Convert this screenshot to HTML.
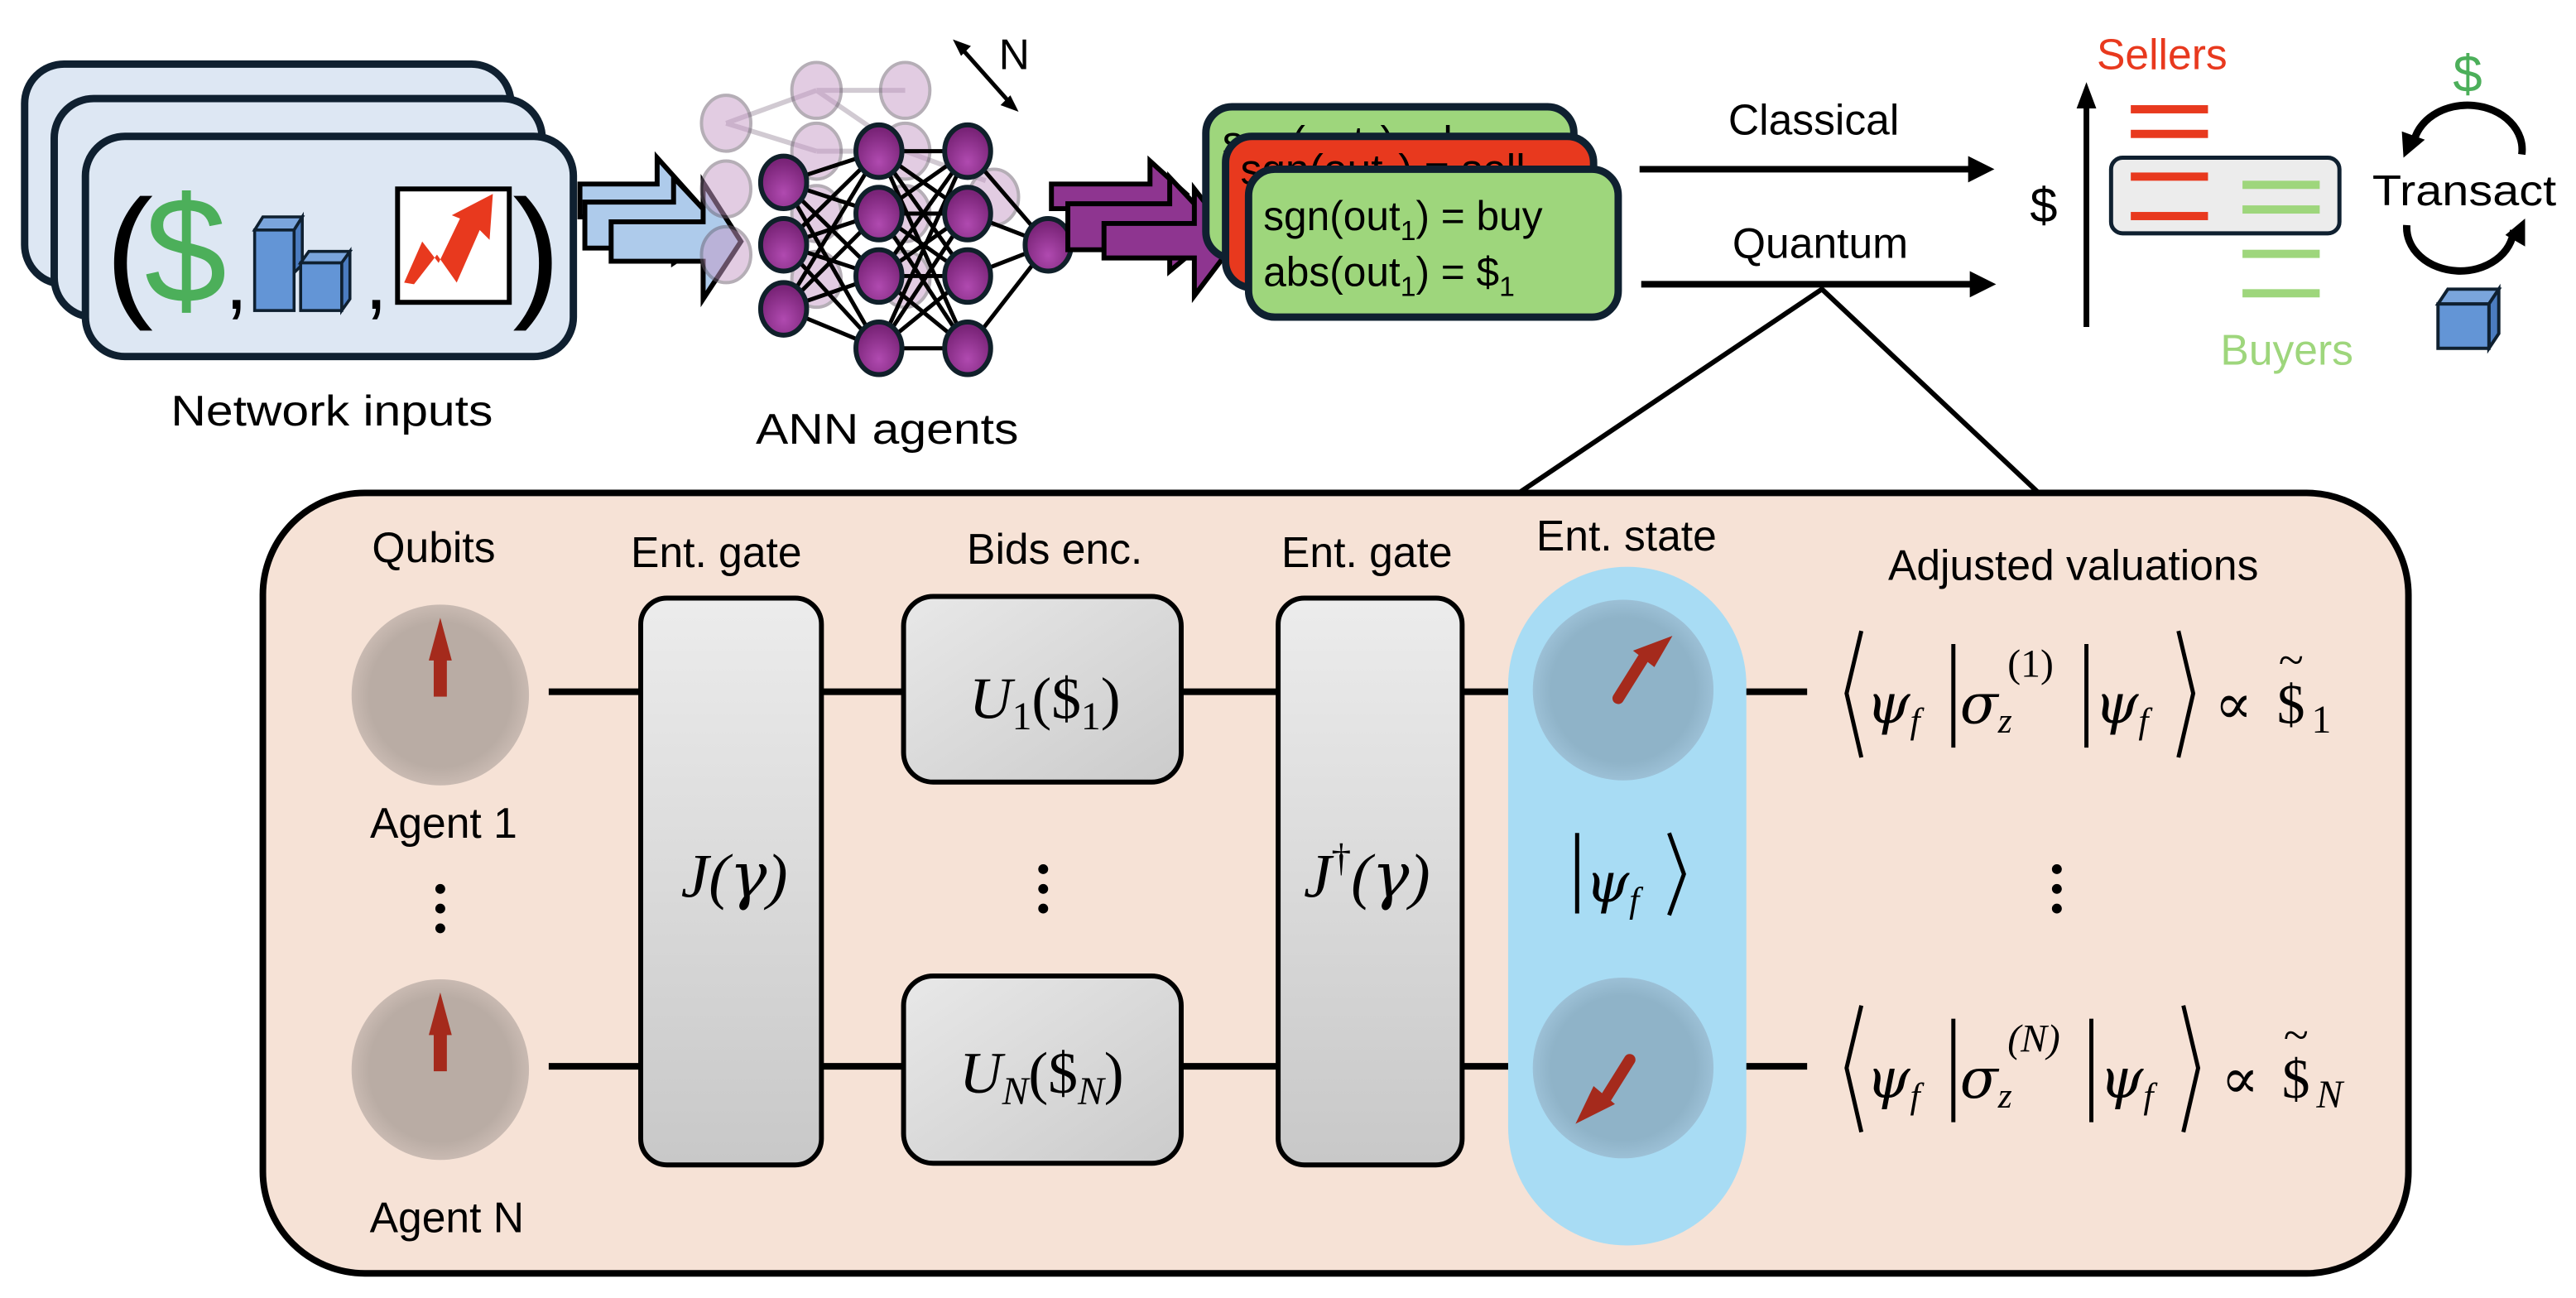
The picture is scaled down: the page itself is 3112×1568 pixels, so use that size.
<!DOCTYPE html>
<html><head><meta charset="utf-8"><style>
html,body{margin:0;padding:0;background:#fff}
svg{display:block}
text{font-family:"Liberation Sans",sans-serif}
.m{font-family:"Liberation Serif","DejaVu Serif",serif;font-style:italic}
.g{font-family:"DejaVu Serif",serif;font-style:italic}
.r{font-family:"Liberation Serif","DejaVu Serif",serif;font-style:normal}
</style></head><body>
<svg width="3112" height="1568" viewBox="0 0 1568 790" preserveAspectRatio="none" xmlns="http://www.w3.org/2000/svg">
<defs>
<radialGradient id="pn" cx="50%" cy="70%" r="60%"><stop offset="0" stop-color="#b04ab0"/><stop offset="1" stop-color="#7a2478"/></radialGradient>
<linearGradient id="gg" x1="0" y1="0" x2="0" y2="1"><stop offset="0" stop-color="#ececec"/><stop offset="1" stop-color="#c8c8c8"/></linearGradient>
<linearGradient id="gu" x1="0" y1="0" x2="1" y2="1"><stop offset="0" stop-color="#e8e8e8"/><stop offset="1" stop-color="#cbcbcb"/></linearGradient>
<radialGradient id="qb" cx="50%" cy="50%" r="50%"><stop offset="0.8" stop-color="#b9aca4"/><stop offset="1" stop-color="#c9bab2"/></radialGradient>
<radialGradient id="qs" cx="50%" cy="50%" r="50%"><stop offset="0.8" stop-color="#8fb3c8"/><stop offset="1" stop-color="#9cc0d6"/></radialGradient>
</defs>

<!-- Network inputs -->
<rect x="15" y="39" width="296" height="134" rx="24" fill="#dde7f3" stroke="#0f2030" stroke-width="4.5"/>
<rect x="33" y="60" width="297" height="133" rx="24" fill="#dde7f3" stroke="#0f2030" stroke-width="4.5"/>
<rect x="52" y="83" width="297" height="134" rx="24" fill="#dde7f3" stroke="#0f2030" stroke-width="4.5"/>
<text x="64" y="183" font-size="88">(</text>
<text x="88" y="184" font-size="92" fill="#4caf5a" textLength="50" lengthAdjust="spacingAndGlyphs">$</text>
<text x="137" y="188" font-size="50">,</text>
<g stroke="#0f2030" stroke-width="1.8">
<polygon points="155,140 160,132 184,132 179,140" fill="#7aa5dc"/>
<polygon points="179,140 184,132 184,161 179,166" fill="#4b7cc0"/>
<rect x="155" y="140" width="24" height="49" fill="#6395d6"/>
<polygon points="183,160 188,153 213,153 208,160" fill="#7aa5dc"/>
<polygon points="208,160 213,153 213,182 208,189" fill="#4b7cc0"/>
<rect x="183" y="160" width="25" height="29" fill="#6395d6"/>
</g>
<text x="222" y="188" font-size="50">,</text>
<rect x="242" y="115" width="68" height="69" fill="#fff" stroke="#000" stroke-width="3"/>
<polygon points="246,172 257,147 267,160 280,133 275,131 300,118 298,146 292,140 278,172 266,155 252,173" fill="#e8391e"/>
<text x="312" y="183" font-size="88">)</text>
<text x="202" y="259" font-size="26" text-anchor="middle" textLength="196" lengthAdjust="spacingAndGlyphs">Network inputs</text>

<!-- Blue arrows -->
<g fill="#aecbeb" stroke="#000" stroke-width="3">
<polygon points="353,112 400,112 400,96 426,125 400,140 400,132 353,132"/>
<polygon points="356,123 410,123 410,108 440,140 410,160 410,151 356,151"/>
<polygon points="372,135 428,135 428,111 451,147 428,182 428,159 372,159"/>
</g>

<!-- ANN faded back -->
<g opacity="0.35" stroke="#7d6a80" stroke-width="3">
<line x1="442" y1="75" x2="497" y2="55"/><line x1="442" y1="75" x2="497" y2="92"/><line x1="497" y1="55" x2="551" y2="55"/><line x1="497" y1="92" x2="551" y2="92"/><line x1="497" y1="55" x2="551" y2="92"/><line x1="551" y1="92" x2="600" y2="110"/>
</g>
<g fill="#c79bc7" stroke="#6d5f70" stroke-width="2" opacity="0.5">
<ellipse cx="442" cy="75" rx="15" ry="17"/><ellipse cx="442" cy="115" rx="15" ry="17"/><ellipse cx="442" cy="155" rx="15" ry="17"/>
<ellipse cx="497" cy="55" rx="15" ry="17"/><ellipse cx="497" cy="92" rx="15" ry="17"/><ellipse cx="497" cy="130" rx="15" ry="17"/><ellipse cx="497" cy="170" rx="15" ry="17"/>
<ellipse cx="551" cy="55" rx="15" ry="17"/><ellipse cx="551" cy="92" rx="15" ry="17"/><ellipse cx="551" cy="130" rx="15" ry="17"/><ellipse cx="551" cy="170" rx="15" ry="17"/>
<ellipse cx="605" cy="120" rx="15" ry="17"/>
</g>
<!-- ANN front edges -->
<g stroke="#000" stroke-width="2.5">
<line x1="477" y1="111" x2="535" y2="92"/><line x1="477" y1="111" x2="535" y2="130"/><line x1="477" y1="111" x2="535" y2="168"/><line x1="477" y1="111" x2="535" y2="212"/>
<line x1="477" y1="149" x2="535" y2="92"/><line x1="477" y1="149" x2="535" y2="130"/><line x1="477" y1="149" x2="535" y2="168"/><line x1="477" y1="149" x2="535" y2="212"/>
<line x1="477" y1="188" x2="535" y2="92"/><line x1="477" y1="188" x2="535" y2="130"/><line x1="477" y1="188" x2="535" y2="168"/><line x1="477" y1="188" x2="535" y2="212"/>
<line x1="535" y1="92" x2="589" y2="92"/><line x1="535" y1="92" x2="589" y2="130"/><line x1="535" y1="92" x2="589" y2="168"/><line x1="535" y1="92" x2="589" y2="212"/>
<line x1="535" y1="130" x2="589" y2="92"/><line x1="535" y1="130" x2="589" y2="130"/><line x1="535" y1="130" x2="589" y2="168"/><line x1="535" y1="130" x2="589" y2="212"/>
<line x1="535" y1="168" x2="589" y2="92"/><line x1="535" y1="168" x2="589" y2="130"/><line x1="535" y1="168" x2="589" y2="168"/><line x1="535" y1="168" x2="589" y2="212"/>
<line x1="535" y1="212" x2="589" y2="92"/><line x1="535" y1="212" x2="589" y2="130"/><line x1="535" y1="212" x2="589" y2="168"/><line x1="535" y1="212" x2="589" y2="212"/>
<line x1="589" y1="92" x2="638" y2="149"/><line x1="589" y1="130" x2="638" y2="149"/><line x1="589" y1="168" x2="638" y2="149"/><line x1="589" y1="212" x2="638" y2="149"/>
</g>
<g fill="url(#pn)" stroke="#10202a" stroke-width="3">
<ellipse cx="477" cy="111" rx="14" ry="16"/><ellipse cx="477" cy="149" rx="14" ry="16"/><ellipse cx="477" cy="188" rx="14" ry="16"/>
<ellipse cx="535" cy="92" rx="14" ry="16"/><ellipse cx="535" cy="130" rx="14" ry="16"/><ellipse cx="535" cy="168" rx="14" ry="16"/><ellipse cx="535" cy="212" rx="14" ry="16"/>
<ellipse cx="589" cy="92" rx="14" ry="16"/><ellipse cx="589" cy="130" rx="14" ry="16"/><ellipse cx="589" cy="168" rx="14" ry="16"/><ellipse cx="589" cy="212" rx="14" ry="16"/>
<ellipse cx="638" cy="149" rx="14" ry="16"/>
</g>
<line x1="584" y1="28" x2="616" y2="64" stroke="#000" stroke-width="2.5"/>
<polygon points="580,24 591,28 585,34" fill="#000"/><polygon points="620,68 609,64 615,58" fill="#000"/>
<text x="608" y="42" font-size="26">N</text>
<text x="540" y="270" font-size="26" text-anchor="middle" textLength="160" lengthAdjust="spacingAndGlyphs">ANN agents</text>

<!-- Purple arrows -->
<g fill="#8e3590" stroke="#000" stroke-width="3">
<polygon points="640,112 700,112 700,98 722,118 700,135 700,127 640,127"/>
<polygon points="650,124 712,124 712,108 742,140 712,165 712,152 650,152"/>
<polygon points="672,136 727,136 727,115 752,147 727,180 727,157 672,157"/>
</g>

<!-- Output cards -->
<rect x="734" y="65" width="224" height="92" rx="16" fill="#9ed67c" stroke="#0f2030" stroke-width="4.5"/>
<text x="744" y="95" font-size="26">sgn(out<tspan font-size="17" dy="6">1</tspan><tspan dy="-6">) = buy</tspan></text>
<rect x="746" y="83" width="224" height="92" rx="16" fill="#e8391e" stroke="#0f2030" stroke-width="4.5"/>
<text x="755" y="112" font-size="26">sgn(out<tspan font-size="17" dy="6">1</tspan><tspan dy="-6">) = sell</tspan></text>
<rect x="760" y="103" width="225" height="90" rx="16" fill="#9ed67c" stroke="#0f2030" stroke-width="4.5"/>
<text x="769" y="140" font-size="25">sgn(out<tspan font-size="17" dy="6">1</tspan><tspan dy="-6">) = buy</tspan></text>
<text x="769" y="174" font-size="25">abs(out<tspan font-size="17" dy="6">1</tspan><tspan dy="-6">) = $</tspan><tspan font-size="17" dy="6">1</tspan></text>

<!-- Classical / Quantum -->
<text x="1104" y="82" font-size="26" text-anchor="middle">Classical</text>
<line x1="998" y1="103" x2="1200" y2="103" stroke="#000" stroke-width="4"/>
<polygon points="1214,103 1198,95 1198,111" fill="#000"/>
<text x="1108" y="157" font-size="26" text-anchor="middle">Quantum</text>
<line x1="999" y1="173" x2="1200" y2="173" stroke="#000" stroke-width="4"/>
<polygon points="1215,173 1199,165 1199,181" fill="#000"/>
<polyline points="923,301 1109,176 1242,301" fill="none" stroke="#000" stroke-width="3"/>

<!-- Market -->
<text x="1316" y="42" font-size="26" fill="#e8391e" text-anchor="middle">Sellers</text>
<line x1="1270" y1="62" x2="1270" y2="199" stroke="#000" stroke-width="3.5"/>
<polygon points="1270,50 1264,66 1276,66" fill="#000"/>
<text x="1244" y="135" font-size="30" text-anchor="middle">$</text>
<rect x="1285" y="96" width="139" height="46" rx="7" fill="#ececec" stroke="#0f2030" stroke-width="2.5"/>
<g fill="#e8391e"><rect x="1297" y="64" width="47" height="5"/><rect x="1297" y="79" width="47" height="5"/><rect x="1297" y="105" width="47" height="5"/><rect x="1297" y="129" width="47" height="5"/></g>
<g fill="#9ed67c"><rect x="1365" y="110" width="47" height="5"/><rect x="1365" y="125" width="47" height="5"/><rect x="1365" y="152" width="47" height="5"/><rect x="1365" y="176" width="47" height="5"/></g>
<text x="1392" y="222" font-size="26" fill="#9ed67c" text-anchor="middle">Buyers</text>
<text x="1502" y="56" font-size="32" fill="#4caf5a" text-anchor="middle">$</text>
<path d="M1469,88 A32,26 0 0 1 1535,94" fill="none" stroke="#000" stroke-width="4.5"/>
<polygon points="1463,96 1462,80 1476,85" fill="#000"/>
<path d="M1465,137 A32,26 0 0 0 1530,140" fill="none" stroke="#000" stroke-width="4.5"/>
<polygon points="1537,133 1537,150 1525,143" fill="#000"/>
<text x="1500" y="125" font-size="26" text-anchor="middle" textLength="112" lengthAdjust="spacingAndGlyphs">Transact</text>
<g stroke="#0f2030" stroke-width="2">
<polygon points="1484,185 1490,176 1521,176 1515,185" fill="#7aa5dc"/>
<polygon points="1515,185 1521,176 1521,203 1515,212" fill="#4b7cc0"/>
<rect x="1484" y="185" width="31" height="27" fill="#6395d6"/>
</g>

<!-- Bottom panel -->
<rect x="160" y="300" width="1306" height="475" rx="62" fill="#f6e2d6" stroke="#000" stroke-width="4"/>
<g font-size="26" text-anchor="middle">
<text x="264" y="342">Qubits</text>
<text x="436" y="345">Ent. gate</text>
<text x="642" y="343">Bids enc.</text>
<text x="832" y="345">Ent. gate</text>
<text x="990" y="335">Ent. state</text>
<text x="1262" y="353">Adjusted valuations</text>
<text x="270" y="510">Agent 1</text>
<text x="272" y="750">Agent N</text>
</g>
<g fill="#000"><circle cx="268" cy="541" r="3"/><circle cx="268" cy="553" r="3"/><circle cx="268" cy="565" r="3"/>
<circle cx="635" cy="529" r="3"/><circle cx="635" cy="541" r="3"/><circle cx="635" cy="553" r="3"/>
<circle cx="1252" cy="529" r="3"/><circle cx="1252" cy="541" r="3"/><circle cx="1252" cy="553" r="3"/></g>

<!-- wires -->
<g stroke="#000" stroke-width="4">
<line x1="334" y1="421" x2="392" y2="421"/><line x1="500" y1="421" x2="552" y2="421"/><line x1="718" y1="421" x2="780" y2="421"/><line x1="889" y1="421" x2="930" y2="421"/><line x1="1050" y1="421" x2="1100" y2="421"/>
<line x1="334" y1="649" x2="392" y2="649"/><line x1="500" y1="649" x2="552" y2="649"/><line x1="718" y1="649" x2="780" y2="649"/><line x1="889" y1="649" x2="930" y2="649"/><line x1="1050" y1="649" x2="1100" y2="649"/>
</g>

<!-- qubits -->
<ellipse cx="268" cy="423" rx="54" ry="55" fill="url(#qb)"/>
<ellipse cx="268" cy="651" rx="54" ry="55" fill="url(#qb)"/>
<g fill="#a52a1c"><rect x="264" y="395" width="8" height="29"/><polygon points="268,376 261,402 275,402"/>
<rect x="264" y="623" width="8" height="29"/><polygon points="268,604 261,630 275,630"/></g>

<!-- gates -->
<rect x="390" y="364" width="110" height="345" rx="16" fill="url(#gg)" stroke="#000" stroke-width="3"/>
<rect x="550" y="363" width="169" height="113" rx="18" fill="url(#gu)" stroke="#000" stroke-width="3"/>
<rect x="550" y="594" width="169" height="114" rx="18" fill="url(#gu)" stroke="#000" stroke-width="3"/>
<rect x="778" y="364" width="112" height="345" rx="16" fill="url(#gg)" stroke="#000" stroke-width="3"/>
<text x="447" y="546" font-size="38" class="m" text-anchor="middle">J(<tspan class="g">γ</tspan>)</text>
<text x="832" y="546" font-size="38" class="m" text-anchor="middle">J<tspan font-size="24" dy="-16" class="r">†</tspan><tspan dy="16">(</tspan><tspan class="g">γ</tspan>)</text>
<text x="636" y="437" font-size="36" class="m" text-anchor="middle">U<tspan font-size="24" dy="7" class="r">1</tspan><tspan dy="-7" class="r">($</tspan><tspan font-size="24" dy="7" class="r">1</tspan><tspan dy="-7" class="r">)</tspan></text>
<text x="634" y="665" font-size="36" class="m" text-anchor="middle">U<tspan font-size="24" dy="7">N</tspan><tspan dy="-7" class="r">($</tspan><tspan font-size="24" dy="7">N</tspan><tspan dy="-7" class="r">)</tspan></text>

<!-- Ent state -->
<rect x="918" y="345" width="145" height="413" rx="72" fill="#a8dcf4"/>
<ellipse cx="988" cy="420" rx="55" ry="55" fill="url(#qs)"/>
<ellipse cx="988" cy="650" rx="55" ry="55" fill="url(#qs)"/>
<line x1="985" y1="425" x2="1000" y2="401" stroke="#a52a1c" stroke-width="7" stroke-linecap="round"/>
<polygon points="1018,387 994,396 1007,406" fill="#a52a1c"/>
<line x1="992" y1="645" x2="977" y2="669" stroke="#a52a1c" stroke-width="7" stroke-linecap="round"/>
<polygon points="959,684 970,661 983,672" fill="#a52a1c"/>
<line x1="960" y1="507" x2="960" y2="556" stroke="#000" stroke-width="2.5"/>
<text x="965" y="549" font-size="34" class="g">ψ<tspan font-size="22" dy="6" class="m">f</tspan></text>
<polyline points="1016,507 1025,532 1016,557" fill="none" stroke="#000" stroke-width="2.5"/>

<!-- equations -->
<g stroke="#000" stroke-width="2.5" fill="none">
<polyline points="1133,384 1124,422 1133,461"/><line x1="1189" y1="392" x2="1189" y2="455"/><line x1="1270" y1="392" x2="1270" y2="455"/><polyline points="1326,384 1335,422 1326,461"/>
<polyline points="1133,612 1124,650 1133,689"/><line x1="1189" y1="620" x2="1189" y2="683"/><line x1="1273" y1="620" x2="1273" y2="683"/><polyline points="1329,612 1338,650 1329,689"/>
</g>
<g font-size="34">
<text x="1136" y="440" class="g">ψ<tspan font-size="22" dy="6" class="m">f</tspan></text>
<text x="1193" y="440" class="g">σ<tspan font-size="22" dy="6" class="m">z</tspan></text>
<text x="1222" y="412" font-size="24" class="r">(1)</text>
<text x="1275" y="440" class="g">ψ<tspan font-size="22" dy="6" class="m">f</tspan></text>
<text x="1348" y="440" class="r">∝</text>
<text x="1386" y="440" class="r">$</text>
<text x="1387" y="411" font-size="28" class="r">~</text>
<text x="1407" y="446" font-size="24" class="r">1</text>
<text x="1136" y="668" class="g">ψ<tspan font-size="22" dy="6" class="m">f</tspan></text>
<text x="1193" y="668" class="g">σ<tspan font-size="22" dy="6" class="m">z</tspan></text>
<text x="1222" y="640" font-size="24" class="m">(N)</text>
<text x="1278" y="668" class="g">ψ<tspan font-size="22" dy="6" class="m">f</tspan></text>
<text x="1352" y="668" class="r">∝</text>
<text x="1389" y="668" class="r">$</text>
<text x="1390" y="639" font-size="28" class="r">~</text>
<text x="1410" y="674" font-size="24" class="m">N</text>
</g>
</svg>
</body></html>
